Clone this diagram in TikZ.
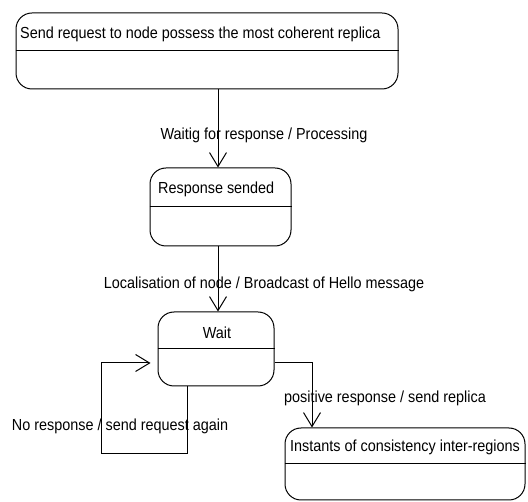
\documentclass[tikz,border=0pt]{standalone}
\usepackage{fontspec}
\setmainfont{Liberation Sans}[FakeStretch=0.9]
\usetikzlibrary{arrows.meta}
\begin{document}
\begin{tikzpicture}[x=1pt,y=-1pt,
  state/.style={draw, line width=1pt, rounded corners=16pt, inner sep=0pt, fill=none},
  divider/.style={line width=1pt},
  title/.style={inner sep=0pt, font=\fontsize{16}{18}\selectfont},
  trans/.style={inner sep=0pt, font=\fontsize{16}{18}\selectfont},
  flow/.style={line width=1pt, -{Straight Barb[length=14pt,width=17pt,line width=1pt]}}
]
\useasboundingbox (0,0) rectangle (528,502);

% states
\node[state, minimum width=382pt, minimum height=76pt] (req) at (207,51) {};
\node[state, minimum width=141pt, minimum height=78pt] (resp) at (220.5,207) {};
\node[state, minimum width=116pt, minimum height=74pt] (wait) at (216,349) {};
\node[state, minimum width=240pt, minimum height=72pt] (inst) at (405,464) {};

\draw[divider] (req.west) -- (req.east);
\draw[divider] (resp.west) -- (resp.east);
\draw[divider] (wait.west) -- (wait.east);
\draw[divider] (inst.west) -- (inst.east);

% state names
\node[title, anchor=west] (reqT) at (20,34) {Send request to node possess the most coherent replica};
\node[title, anchor=west] (respT) at (158,189) {Response sended};
\node[title] (waitT) at (217,333) {Wait};
\node[title, anchor=west] (instT) at (290,447) {Instants of consistency inter-regions};

% transitions
\coordinate (axis) at (218,0);
\draw[flow] (req.south -| axis) -- (resp.north -| axis);
\draw[flow] (resp.south -| axis) -- (wait.north -| axis);

\coordinate (loopA) at (187,454);
\coordinate (loopB) at (101,363);
\draw[flow, shorten >=7pt] (wait.south -| loopA) -- (loopA) -| (loopB) -- (loopB -| wait.west);

\coordinate (exitX) at (312,363);
\draw[flow] (wait.east |- exitX) -| (inst.north -| exitX);

% transition labels
\node[trans] (t1) at (264,135) {Waitig for response / Processing};
\node[trans] (t2) at (264,284) {Localisation of node / Broadcast of Hello message};
\node[trans] (t3) at (120,426) {No response / send request again};
\node[trans] (t4) at (385,398) {positive response / send replica};
\end{tikzpicture}
\end{document}
